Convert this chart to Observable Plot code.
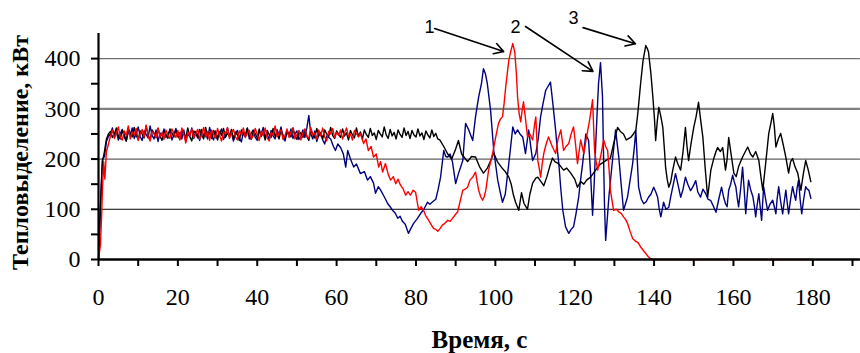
<!DOCTYPE html>
<html><head><meta charset="utf-8">
<script src="https://cdn.jsdelivr.net/npm/d3@7"></script>
<script src="https://cdn.jsdelivr.net/npm/@observablehq/plot@0.6"></script>
<style>
body{margin:0;background:#fff}
#chart{width:860px;height:353px}
#chart svg text{font-family:"Liberation Serif","Times New Roman",Times,serif}
#chart svg .notes text{font-family:"Liberation Sans",Arial,sans-serif}
</style>
</head><body><div id="chart"></div>
<script>
// Series: [time s, heat release kW]
const blackSeries = [[0,0],[0.5,110],[1,195],[1.5,215],[2,240],[2.5,250],
[3,255],[3.5,243],[4,250],[4.5,262],[5,246],[5.5,240],[6,257],[6.5,249],[7,236],[7.5,260],[8,252],[8.5,244],[9,263],[9.5,247],[10,239],[10.5,256],[11,250],[11.5,242],[12,265],[12.5,248],[13,238],[13.5,258],[14,251],[14.5,243],[15,261],[15.5,246],[16,237],[16.5,255],[17,249],[17.5,241],[18,260],[18.5,252],[19,244],[19.5,258],[20,247],[20.5,239],[21,257],[21.5,250],[22,243],[22.5,262],[23,245],[23.5,236],[24,256],[24.5,251],[25,242],[25.5,259],[26,248],[26.5,240],[27,263],[27.5,246],[28,253],[28.5,241],[29,257],[29.5,249],[30,238],[30.5,255],[31,247],[31.5,261],[32,243],[32.5,252],[33,245],[33.5,259],[34,240],[34.5,254],[35,248],[35.5,237],[36,258],[36.5,250],[37,244],[37.5,262],[38,247],[38.5,239],[39,256],[39.5,251],[40,242],[40.5,260],[41,245],[41.5,253],[42,238],[42.5,257],[43,249],[43.5,243],[44,261],[44.5,246],[45,252],[45.5,240],[46,258],[46.5,248],[47,241],[47.5,256],[48,250],[48.5,244],[49,262],[49.5,247],[50,239],[50.5,255],[51,251],[51.5,243],[52,259],[52.5,245],[53,237],[53.5,257],[54,249],[54.5,242],[55,261],[55.5,246],[56,253],[56.5,240],[57,258],[57.5,250],[58,244],[58.5,263],[59,247],[59.5,241],[60,256],[60.5,249],[61,243],[61.5,260],[62,246],[62.5,252],[63,238],[63.5,257],[64,248],[64.5,242],[65,262],[65.5,245],[66,254],[66.5,240],[67,258],[67.5,249],[68,243],[68.5,261],[69,247],[69.5,252],[70,239],[70.5,257],[71,250],[71.5,244],[72,264],[72.5,248],[73,241],[73.5,259],[74,246],[74.5,253],[75,240],[75.5,258],[76,249],[76.5,243],[77,262],[77.5,247],[78,255],[78.5,241],[79,257],[79.5,248],[80,244],[80.5,260],[81,246],[81.5,252],[82,239],[82.5,256],[83,248],[83.5,242],[84,258],[84.5,245],[85,251],[85.5,240],[86,238],
[87,225],[88,210],[89,200],[90,220],[90.7,237],[91.5,210],[92,205],[93,195],[94,205],[95,204],[96,185],[97,172],[98,182],[99,200],[99.6,212],[100.5,195],[101.8,181],[102.5,175],[103.4,164],[104,150],[104.5,130],[105.1,114],[105.9,98],[106.6,133],[107.2,112],[108.1,100],[108.7,130],[109.4,152],[110.2,162],[110.7,164],[111.5,155],[112.2,147],[113,165],[113.7,185],[114.4,202],[115,195],[115.7,192],[116.5,185],[117.2,178],[118,182],[119,172],[120,160],[120.7,144],[121.5,155],[122.3,150],[123,158],[124,164],[125,175],[125.8,184],[126.5,190],[127.3,194],[128,198],[129,202],[129.8,230],[130.8,263],[131.5,255],[132.3,250],[133,238],[134.1,243],[134.8,250],[135.4,257],[135.9,291],[136.6,350],[137.2,395],[137.9,426],[138.3,420],[138.6,413],[139.2,370],[139.7,323],[140.1,280],[140.4,237],[140.8,275],[141.2,303],[141.7,285],[142.2,263],[142.6,220],[142.9,184],[143.3,160],[143.7,144],[144.2,155],[144.7,178],[145.4,204],[146,190],[146.7,178],[147.3,215],[147.9,263],[148.3,225],[148.7,197],[149.3,230],[150,263],[150.6,285],[151.2,313],[151.7,280],[152.3,243],[152.9,180],[153.5,124],[153.9,150],[154.3,178],[155,200],[155.6,215],[156,223],[156.7,215],[157.3,223],[158,178],[158.4,200],[158.8,243],[159.5,205],[160.1,172],[160.7,165],[161.3,185],[162.3,204],[163,215],[163.6,224],[164.3,210],[164.9,204],[165.6,215],[166.4,197],[167,160],[167.4,138],[168.1,190],[168.9,251],[169.4,270],[169.9,291],[170.3,265],[170.7,224],[171.3,240],[171.9,251],[172.5,230],[173.2,204],[173.9,172],[174.4,195],[174.9,201],[175.5,185],[176.2,172],[176.6,155],[177,138],[177.6,170],[178.2,197],[178.8,180],[179.5,155]];

const blueSeries = [[0,0],[0.3,60],[0.7,150],[1,200],[1.5,205],[2,235],[2.5,245],
[3,250],[3.5,262],[4,244],[4.5,255],[5,238],[5.5,251],[6,259],[6.5,243],[7,236],[7.5,254],[8,248],[8.5,262],[9,241],[9.5,250],[10,264],[10.5,245],[11,237],[11.5,256],[12,249],[12.5,242],[13,266],[13.5,247],[14,240],[14.5,258],[15,235],[15.5,252],[16,246],[16.5,260],[17,243],[17.5,251],[18,257],[18.5,238],[19,249],[19.5,261],[20,244],[20.5,253],[21,240],[21.5,258],[22,236],[22.5,250],[23,245],[23.5,262],[24,241],[24.5,255],[25,248],[25.5,237],[26,259],[26.5,246],[27,252],[27.5,240],[28,263],[28.5,247],[29,238],[29.5,256],[30,243],[30.5,251],[31,260],[31.5,239],[32,248],[32.5,262],[33,245],[33.5,254],[34,236],[34.5,250],[35,257],[35.5,242],[36,234],[36.5,253],[37,248],[37.5,261],[38,240],[38.5,252],[39,258],[39.5,243],[40,237],[40.5,255],[41,249],[41.5,263],[42,244],[42.5,251],[43,238],[43.5,257],[44,246],[44.5,240],[45,259],[45.5,248],[46,264],[46.5,242],[47,236],[47.5,254],[48,247],[48.5,260],[49,241],[49.5,250],[50,256],[50.5,239],[51,245],[51.5,258],[52,243],[52.5,262],[53,287],[53.5,250],[54,240],[54.5,256],[55,235],[55.5,248],[56,252],[56.5,238],[57,230],[57.5,246],[58,243],
[58.5,240],[59.2,225],[59.7,217],[60.3,230],[61,223],[61.7,210],[62.3,184],[62.8,217],[63.5,200],[64.3,184],[65,190],[66,171],[67,175],[67.8,158],[68.5,165],[69.3,152],[69.8,132],[70.5,145],[71.1,138],[72,125],[72.9,111],[73.5,105],[74.1,98],[74.8,92],[75.4,82],[76,86],[76.6,76],[77.3,70],[78.1,52],[78.6,60],[79.4,72],[80.2,80],[81.2,92],[82,100],[82.9,114],[83.5,110],[84.2,115],[85,120],[85.6,140],[86.2,164],[87,217],[87.5,205],[88,204],[88.6,210],[89.2,194],[90,151],[90.7,171],[91.3,185],[91.8,197],[92.5,271],[93.3,258],[94.3,237],[95,284],[95.8,324],[96.5,350],[97,380],[97.5,370],[98,349],[98.8,297],[99.6,217],[100.6,158],[101.2,135],[101.8,114],[102.5,130],[103.1,171],[103.8,220],[104.4,264],[105,250],[105.6,258],[106.2,250],[106.9,244],[107.6,211],[108.4,258],[109,220],[109.4,197],[110.2,211],[110.8,240],[111.4,284],[112,310],[112.7,337],[113.3,345],[113.9,353],[114.5,310],[115.2,257],[115.6,220],[116,191],[116.5,140],[117,98],[117.7,65],[118.5,52],[119.1,60],[119.7,65],[120.3,90],[121,124],[121.5,160],[122,191],[122.8,250],[123.5,237],[124,170],[124.5,88],[124.9,150],[125.3,231],[125.7,300],[126,350],[126.5,392],[127,324],[127.3,191],[127.5,110],[127.8,38],[128.2,80],[128.6,124],[129.6,204],[130.3,258],[131.1,204],[131.7,150],[132.3,98],[133.3,124],[134,160],[134.6,191],[135.1,230],[135.4,257],[136.1,144],[136.8,120],[137.4,111],[138,115],[138.6,124],[139.2,130],[139.9,144],[140.4,135],[140.9,124],[141.3,100],[141.7,85],[142.4,114],[143,100],[143.7,104],[144.2,125],[144.7,144],[145.4,171],[146,150],[146.7,124],[147.3,140],[147.9,164],[148.5,150],[149.2,137],[149.8,145],[150.5,157],[151,135],[151.7,124],[152.3,140],[153,131],[153.6,120],[154.3,117],[155,105],[155.6,94],[156.3,120],[157,144],[157.5,125],[158,111],[158.4,105],[158.8,138],[159.3,150],[159.8,168],[160.2,155],[160.6,145],[161,120],[161.3,105],[161.8,140],[162.3,184],[162.7,140],[163.1,91],[163.5,130],[163.8,158],[164.3,140],[164.9,125],[165.3,105],[165.6,85],[166,110],[166.4,131],[166.8,100],[167.1,78],[167.6,145],[168.1,120],[168.6,98],[169.2,110],[169.9,118],[170.3,105],[170.7,91],[171,120],[171.4,145],[171.9,115],[172.4,91],[172.8,115],[173.2,138],[173.6,110],[173.9,91],[174.4,120],[174.9,145],[175.3,130],[175.7,118],[176,140],[176.4,158],[176.8,120],[177.2,91],[177.7,120],[178.2,145],[178.6,140],[179,138],[179.5,122]];

const redSeries = [[0,0],[0.5,30],[0.8,90],[1,140],[1.3,195],[1.6,160],[2,215],[2.5,230],
[3,245],[3.5,258],[4,241],[4.5,252],[5,264],[5.5,243],[6,238],[6.5,256],[7,247],[7.5,266],[8,240],[8.5,253],[9,248],[9.5,261],[10,237],[10.5,250],[11,259],[11.5,244],[12,268],[12.5,246],[13,236],[13.5,255],[14,250],[14.5,242],[15,262],[15.5,245],[16,253],[16.5,239],[17,258],[17.5,247],[18,241],[18.5,260],[19,251],[19.5,243],[20,257],[20.5,238],[21,262],[21.5,249],[22,232],[22.5,254],[23,246],[23.5,260],[24,242],[24.5,251],[25,259],[25.5,240],[26,248],[26.5,263],[27,244],[27.5,255],[28,237],[28.5,258],[29,249],[29.5,242],[30,261],[30.5,247],[31,236],[31.5,254],[32,250],[32.5,263],[33,241],[33.5,252],[34,259],[34.5,244],[35,238],[35.5,256],[36,248],[36.5,262],[37,243],[37.5,251],[38,257],[38.5,240],[39,246],[39.5,261],[40,249],[40.5,237],[41,255],[41.5,247],[42,262],[42.5,242],[43,236],[43.5,253],[44,248],[44.5,266],[45,244],[45.5,251],[46,258],[46.5,239],[47,247],[47.5,260],[48,243],[48.5,254],[49,262],[49.5,240],[50,249],[50.5,257],[51,238],[51.5,252],[52,260],[52.5,245],[53,241],[53.5,263],[54,248],[54.5,252],[55,240],[55.5,258],[56,246],[56.5,262],[57,244],[57.5,236],[58,255],[58.5,250],[59,261],[59.5,243],[60,253],[60.5,247],[61,258],[61.5,240],[62,252],[62.5,262],[63,245],[63.5,250],[64,238],[64.5,257],[65,251],[65.5,244],[66,251],
[66.8,231],[67.4,240],[68,217],[68.7,225],[69.3,204],[70,210],[70.6,184],[71.1,195],[71.6,174],[72.3,191],[73,170],[73.6,158],[74.3,165],[74.9,151],[75.5,160],[76.1,148],[76.8,140],[77.4,128],[78,135],[78.6,128],[79.3,138],[79.9,134],[80.3,115],[80.7,98],[81.3,105],[81.9,98],[82.4,88],[83.2,78],[83.8,70],[84.4,62],[85,60],[85.5,56],[86.1,62],[86.7,69],[87.3,72],[88,78],[88.6,76],[89.2,82],[89.8,88],[90.5,95],[91.1,115],[91.8,138],[92.4,140],[93,144],[93.6,158],[94.3,164],[95,174],[95.4,155],[95.8,138],[96.3,125],[96.8,118],[97.2,125],[97.6,138],[98.3,178],[99.3,211],[100.1,244],[100.8,271],[101.3,280],[101.8,284],[102.2,310],[102.6,343],[103,370],[103.4,397],[103.9,415],[104.4,430],[104.9,413],[105.3,370],[105.6,324],[106,290],[106.4,274],[106.8,300],[107.1,314],[107.6,280],[108.1,244],[108.7,250],[109.4,238],[109.9,270],[110.2,284],[110.7,197],[111.1,180],[111.4,164],[111.8,190],[112.2,211],[112.8,230],[113.4,244],[114,232],[114.4,224],[115.2,211],[115.8,240],[116.5,258],[117.2,217],[117.8,225],[118.5,231],[119.1,250],[119.7,264],[120.2,230],[120.7,191],[121.1,215],[121.5,238],[122.3,211],[122.8,235],[123.3,258],[123.7,275],[124,291],[124.5,318],[125,217],[125.4,195],[125.8,178],[126.5,204],[127.3,238],[127.8,225],[128.3,217],[128.7,175],[129,137],[129.8,98],[130.5,100],[131.1,95],[131.7,92],[132.3,85],[132.8,80],[133.3,72],[134,55],[134.6,42],[135.4,36],[136,33],[136.6,25],[137.3,18],[137.9,12],[138.5,6],[139.2,1],[139.8,0],[140,0],[180,0]];

const xTicks = [0,10,20,30,40,50,60,70,80,90,100,110,120,130,140,150,160,170,180,190];
const xLabels = [0,20,40,60,80,100,120,140,160,180];
const yTicks = [0,50,100,150,200,250,300,350,400];
const yLabels = [0,100,200,300,400];
const gridValues = [100,200,300,400];
const gridColors = ["#000000","#606060","#808080","#707070"];
const gridWidths = [1,1.2,2.2,1.2];

const noteLabels = ["1","2","3"];
const noteX = [83.4,105.1,119.7];
const noteY = [462,462,480];
const arrowX1 = [84.7,107.6,122.1];
const arrowY1 = [460,464,461.7];
const arrowX2 = [102.1,124.6,135.3];
const arrowY2 = [414,374.6,429.7];

const toRows = (arr, s) => arr.map(([t, v]) => ({t, v, s}));
const grid = gridValues.map((v, i) => ({v, c: gridColors[i], w: gridWidths[i]}));
const notes = noteLabels.map((l, i) => ({l, x: noteX[i], y: noteY[i]}));
const arrows = arrowX1.map((x1, i) => ({x1, y1: arrowY1[i], x2: arrowX2[i], y2: arrowY2[i]}));

const chart = Plot.plot({
  width: 860,
  height: 353,
  marginLeft: 98,
  marginRight: 8,
  marginTop: 33,
  marginBottom: 94,
  style: {fontSize: "23px", background: "white", color: "black", overflow: "visible"},
  x: {domain: [0, 190], axis: null},
  y: {domain: [0, 450], axis: null},
  marks: [
    ...grid.map(g => Plot.ruleY([g.v], {x1: 0, x2: 192, stroke: g.c, strokeWidth: g.w})),
    Plot.line(toRows(blueSeries, "b"), {x: "t", y: "v", stroke: "#000080", strokeWidth: 1.4}),
    Plot.line(toRows(blackSeries, "k"), {x: "t", y: "v", stroke: "#000000", strokeWidth: 1.4}),
    Plot.line(toRows(redSeries, "r"), {x: "t", y: "v", stroke: "#ff0000", strokeWidth: 1.4}),
    Plot.axisY({ticks: yTicks, tickSize: 7, strokeWidth: 2, tickFormat: () => ""}),
    Plot.axisX({ticks: xTicks, tickSize: 7, strokeWidth: 2, tickFormat: () => ""}),
    Plot.text(yLabels, {y: d => d, text: d => String(d), frameAnchor: "left", dx: -18, textAnchor: "end", lineAnchor: "middle", fontSize: 24}),
    Plot.text(xLabels, {x: d => d, text: d => String(d), frameAnchor: "bottom", dy: 38, textAnchor: "middle", lineAnchor: "middle", fontSize: 24}),
    Plot.ruleX([0], {y1: 0, y2: 450, stroke: "black", strokeWidth: 2.2}),
    Plot.ruleY([0], {x1: 0, x2: 192, stroke: "black", strokeWidth: 2.6}),
    Plot.text(["Тепловыделение, кВт"], {frameAnchor: "left", dx: -78, dy: 6, rotate: -90, fontWeight: "bold", fontSize: 24, textAnchor: "middle", lineAnchor: "middle"}),
    Plot.text(["Время, с"], {frameAnchor: "bottom", dx: 4, dy: 80, fontWeight: "bold", fontSize: 25, textAnchor: "middle", lineAnchor: "middle"}),
    Plot.arrow(arrows, {x1: "x1", y1: "y1", x2: "x2", y2: "y2", stroke: "black", strokeWidth: 1.6, headLength: 10}),
    Plot.text(notes, {x: "x", y: "y", text: "l", fontSize: 18, lineAnchor: "middle", className: "notes"})
  ]
});
document.getElementById("chart").appendChild(chart);
</script>
</body></html>
